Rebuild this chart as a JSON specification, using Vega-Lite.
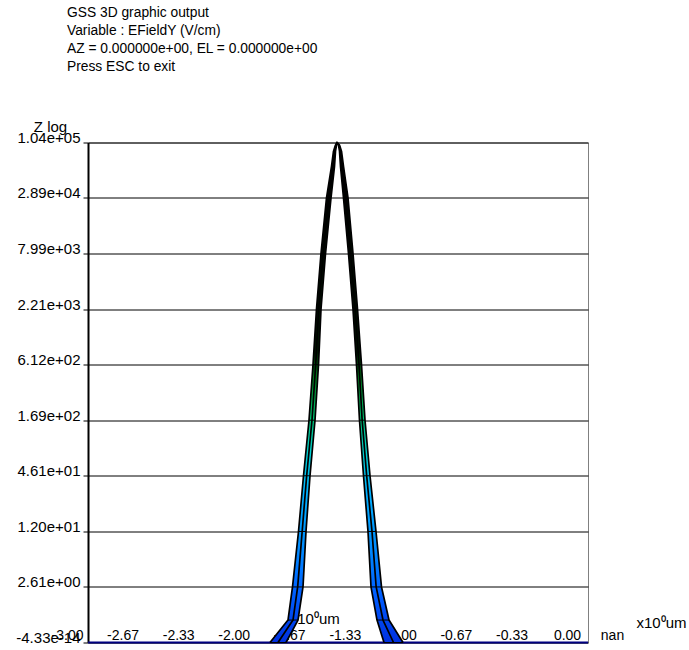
{
  "$schema": "https://vega.github.io/schema/vega-lite/v6.json",
  "width": 500,
  "height": 500,
  "autosize": {"type": "none"},
  "padding": {"left": 88, "top": 142.5, "right": 101, "bottom": 7.5},
  "background": "white",
  "config": {
    "font": "Liberation Sans",
    "view": {"stroke": "#808080", "strokeWidth": 1}
  },
  "title": {
    "text": ["GSS 3D graphic output", "Variable : EFieldY (V/cm)", "AZ = 0.000000e+00, EL = 0.000000e+00", "Press ESC to exit"],
    "anchor": "start",
    "frame": "group",
    "dx": -21,
    "offset": 46,
    "fontSize": 13.8,
    "fontWeight": "normal",
    "lineHeight": 18,
    "color": "black",
    "font": "Liberation Sans"
  },
  "datasets": {
    "band": [
      {"side": "L", "z": 0, "outer": -1.908, "mid": -1.86, "inner": -1.812},
      {"side": "L", "z": 0.68, "outer": -1.8, "mid": -1.77, "inner": -1.74},
      {"side": "L", "z": 2.61, "outer": -1.773, "mid": -1.742, "inner": -1.71},
      {"side": "L", "z": 12, "outer": -1.737, "mid": -1.715, "inner": -1.692},
      {"side": "L", "z": 46.1, "outer": -1.707, "mid": -1.688, "inner": -1.668},
      {"side": "L", "z": 169, "outer": -1.674, "mid": -1.656, "inner": -1.638},
      {"side": "L", "z": 612, "outer": -1.65, "mid": -1.634, "inner": -1.617},
      {"side": "L", "z": 2210, "outer": -1.629, "mid": -1.616, "inner": -1.602},
      {"side": "L", "z": 7990, "outer": -1.602, "mid": -1.589, "inner": -1.575},
      {"side": "L", "z": 28900, "outer": -1.569, "mid": -1.556, "inner": -1.542},
      {"side": "L", "z": 60000, "outer": -1.539, "mid": -1.53, "inner": -1.521},
      {"side": "L", "z": 85000, "outer": -1.527, "mid": -1.521, "inner": -1.515},
      {"side": "L", "z": 98000, "outer": -1.515, "mid": -1.512, "inner": -1.509},
      {"side": "L", "z": 104000, "outer": -1.506, "mid": -1.506, "inner": -1.506},
      {"side": "R", "z": 104000, "outer": -1.506, "mid": -1.506, "inner": -1.506},
      {"side": "R", "z": 98000, "outer": -1.491, "mid": -1.494, "inner": -1.497},
      {"side": "R", "z": 85000, "outer": -1.479, "mid": -1.485, "inner": -1.491},
      {"side": "R", "z": 60000, "outer": -1.467, "mid": -1.476, "inner": -1.485},
      {"side": "R", "z": 28900, "outer": -1.44, "mid": -1.454, "inner": -1.467},
      {"side": "R", "z": 7990, "outer": -1.41, "mid": -1.424, "inner": -1.437},
      {"side": "R", "z": 2210, "outer": -1.383, "mid": -1.397, "inner": -1.41},
      {"side": "R", "z": 612, "outer": -1.359, "mid": -1.374, "inner": -1.389},
      {"side": "R", "z": 169, "outer": -1.338, "mid": -1.355, "inner": -1.371},
      {"side": "R", "z": 46.1, "outer": -1.308, "mid": -1.328, "inner": -1.347},
      {"side": "R", "z": 12, "outer": -1.272, "mid": -1.296, "inner": -1.32},
      {"side": "R", "z": 2.61, "outer": -1.239, "mid": -1.271, "inner": -1.302},
      {"side": "R", "z": 0.68, "outer": -1.194, "mid": -1.23, "inner": -1.266},
      {"side": "R", "z": 0, "outer": -1.11, "mid": -1.167, "inner": -1.224}
    ],
    "base": [
      {"x": -3, "z": 0},
      {"x": 0, "z": 0}
    ]
  },
  "layer": [
    {
      "data": {"name": "base"},
      "mark": {"type": "line", "color": "#000080", "strokeWidth": 2},
      "encoding": {
        "x": {
          "field": "x",
          "type": "quantitative",
          "scale": {"domain": [-3, 0], "nice": false, "zero": false},
          "axis": {
            "orient": "bottom",
            "values": [-3, -2.667, -2.333, -2, -1.667, -1.333, -1, -0.667, -0.333, 0],
            "labelExpr": "replace(format(datum.value, '.2f'), '\u2212', '-')",
            "labelAlign": "center",
            "labelOffset": -21,
            "labelBaseline": "alphabetic",
            "labelPadding": -3,
            "labelFontSize": 14,
            "labelColor": "black",
            "labelOverlap": false,
            "labelFlush": false,
            "labelBound": false,
            "ticks": false,
            "tickSize": 0,
            "domain": false,
            "grid": false,
            "title": "x10\u2070um",
            "titleX": 573,
            "titleY": -20,
            "titleAlign": "center",
            "titleBaseline": "middle",
            "titleFontSize": 15,
            "titleFontWeight": "normal",
            "titleColor": "black"
          }
        },
        "y": {
          "field": "z",
          "type": "quantitative",
          "scale": {"type": "symlog", "constant": 1, "domain": [0, 104000], "nice": false, "zero": false},
          "axis": {
            "title": "Z log",
            "titleAngle": 0,
            "titleX": -38,
            "titleY": -11,
            "titleAlign": "center",
            "titleBaseline": "alphabetic",
            "titleFontSize": 15,
            "titleFontWeight": "normal",
            "titleColor": "black",
            "values": [0, 2.61, 12, 46.1, 169, 612, 2210, 7990, 28900, 104000],
            "labelExpr": "datum.value == 0 ? '-4.33e-14' : replace(format(datum.value, '.2e'), 'e+', 'e+0')",
            "labelFontSize": 15,
            "labelColor": "black",
            "labelBaseline": "alphabetic",
            "labelPadding": 3,
            "labelOverlap": false,
            "labelFlush": false,
            "labelBound": false,
            "tickSize": 5,
            "tickColor": "black",
            "tickWidth": 1,
            "domainColor": "black",
            "domainWidth": 2,
            "grid": true,
            "gridColor": "black",
            "gridWidth": 1,
            "gridOpacity": 1
          }
        }
      }
    },
    {
      "data": {"name": "band"},
      "mark": {
        "type": "area",
        "orient": "horizontal",
        "color": {
          "gradient": "linear",
          "x1": 0, "y1": 0, "x2": 0, "y2": 1,
          "stops": [
            {"offset": 0, "color": "#000000"},
            {"offset": 0.42, "color": "#001a00"},
            {"offset": 0.47, "color": "#007a1a"},
            {"offset": 0.55, "color": "#00c070"},
            {"offset": 0.62, "color": "#00d0d0"},
            {"offset": 0.7, "color": "#00b0ff"},
            {"offset": 0.8, "color": "#0090ff"},
            {"offset": 0.9, "color": "#0060ff"},
            {"offset": 1, "color": "#0030e0"}
          ]
        }
      },
      "encoding": {
        "x": {
          "field": "outer",
          "type": "quantitative",
          "axis": {
            "orient": "bottom",
            "labels": false,
            "ticks": false,
            "domain": false,
            "grid": false,
            "title": "10\u2070um",
            "titleX": 230,
            "titleY": -24,
            "titleAlign": "center",
            "titleBaseline": "middle",
            "titleFontSize": 15,
            "titleFontWeight": "normal",
            "titleColor": "black"
          }
        },
        "x2": {"field": "inner"},
        "y": {"field": "z", "type": "quantitative"},
        "detail": {"field": "side"}
      }
    },
    {
      "data": {"name": "band"},
      "mark": {"type": "rule", "color": "black", "strokeWidth": 1},
      "encoding": {
        "x": {
          "field": "outer",
          "type": "quantitative",
          "axis": {
            "orient": "bottom",
            "labels": false,
            "ticks": false,
            "domain": false,
            "grid": false,
            "title": "nan",
            "titleX": 524,
            "titleY": -3,
            "titleAlign": "center",
            "titleBaseline": "alphabetic",
            "titleFontSize": 14,
            "titleFontWeight": "normal",
            "titleColor": "black"
          }
        },
        "x2": {"field": "inner"},
        "y": {"field": "z", "type": "quantitative"}
      }
    },
    {
      "data": {"name": "band"},
      "transform": [
        {"fold": ["outer", "mid", "inner"], "as": ["slice", "xv"]}
      ],
      "mark": {"type": "line", "color": "black", "strokeWidth": 1.7, "strokeJoin": "round"},
      "encoding": {
        "x": {"field": "xv", "type": "quantitative", "axis": null},
        "y": {"field": "z", "type": "quantitative"},
        "detail": {"field": "slice"}
      }
    }
  ],
  "resolve": {"axis": {"x": "independent"}}
}
